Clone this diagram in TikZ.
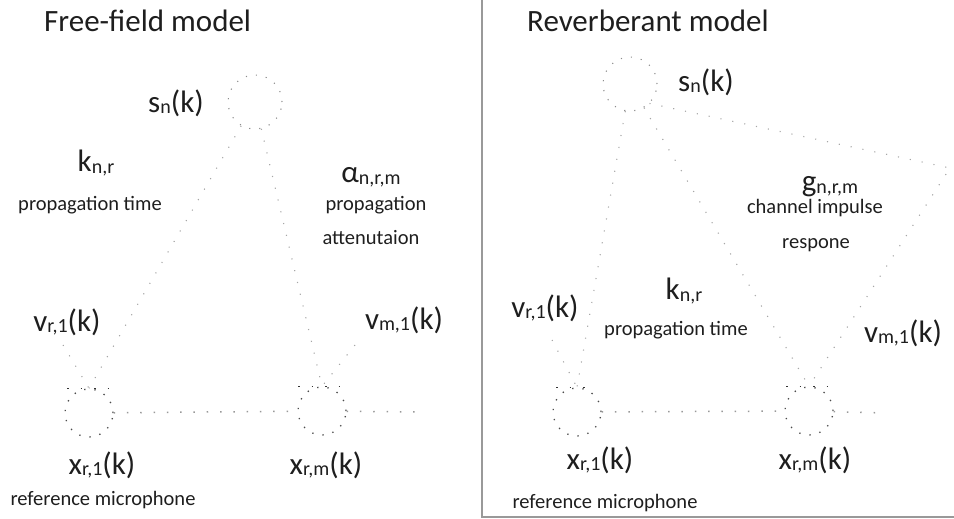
\documentclass[tikz,border=0pt]{standalone}
\usepackage{fontspec}
\setmainfont{Carlito}
\usetikzlibrary{positioning}
\usepackage{xcolor}
\definecolor{ink}{HTML}{1E1E1E}
\newcommand{\sig}[3]{#1\raisebox{-1.5pt}{\fontsize{20}{20}\selectfont #2}#3}

\begin{document}
\begin{tikzpicture}[x=1pt, y=-1pt,
    heading/.style={font=\fontsize{31}{33}\selectfont, text=ink, inner sep=0pt, anchor=west},
    big/.style={font=\fontsize{31}{33}\selectfont, text=ink, inner sep=0pt},
    small/.style={font=\fontsize{20.5}{22}\selectfont, text=ink, inner sep=0pt},
    source/.style={circle, minimum size=54pt, inner sep=0pt, draw=black!45, line width=1.1pt, dash pattern=on 1.1pt off 9pt},
    mic/.style={circle, minimum size=48pt, inner sep=0pt, draw=black!70, line width=1.3pt, dash pattern=on 1.3pt off 9pt},
    mictop/.style={draw=black!80, line width=1.6pt, dash pattern=on 1.6pt off 11.9pt},
    ray/.style={draw=black!35, line width=1.1pt, dash pattern=on 1.1pt off 11pt},
    cable/.style={draw=black!40, line width=1.5pt, dash pattern=on 1.5pt off 11.8pt},
    frame/.style={draw=black!40, line width=1.3pt}]

            \useasboundingbox (0,0) rectangle (954,519);

            \draw[frame] (482,0) |- (954,517);

            \node[heading] (title1) at (44,21) {Free-field model};

            \node[source] (src1) at (255,102) {};
            \node[big] (s1) at (176,103) {\sig{s}{n}{(k)}};

            \node[mic] (m1) at (89,413) {};
            \node[mic] (m2) at (322,411) {};
            \coordinate (tail1) at (418,412);
            \coordinate (n1) at (63,345);
            \coordinate (n2) at (355,345);

            \draw[mictop] ([xshift=-22pt]m1.north) -- ([xshift=20pt]m1.north);
            \draw[mictop] ([xshift=-24pt]m2.north) -- ([xshift=18pt]m2.north);
            \draw[ray] (src1) -- (m1.north);
            \draw[ray] (src1) -- (m2.north);
            \draw[ray] (n1) -- (m1.north);
            \draw[ray] (n2) -- (m2.north);
            \draw[cable] (m1) -- (m2);
            \draw[cable] (m2) -- (tail1);

            \node[big] (k1) at (96,163) {\sig{k}{n,r}{}};
            \node[small] (t1) at (90,205) {propagation time};
            \node[big] (a1) at (371,177) {\sig{α}{n,r,m}{}};
            \node[small] (p1) at (376,205) {propagation};
            \node[small] (q1) at (371,238) {attenutaion};
            \node[big] (v1) at (67,322) {\sig{v}{r,1}{(k)}};
            \node[big] (w1) at (404,320) {\sig{v}{m,1}{(k)}};
            \node[big] (x1) at (102,465) {\sig{x}{r,1}{(k)}};
            \node[big] (y1) at (326,465) {\sig{x}{r,m}{(k)}};
            \node[small] (r1) at (103,500) {reference microphone};

            \node[heading] (title2) at (527,21) {Reverberant model};

            \node[source] (src2) at (630,84) {};
            \node[big] (s2) at (706,82) {\sig{s}{n}{(k)}};

            \node[mic] (m3) at (577,412) {};
            \node[mic] (m4) at (809,411) {};
            \coordinate (tail2) at (884,413);
            \coordinate (refl) at (950,168);
            \coordinate (n3) at (552,340);

            \draw[mictop] ([xshift=-21pt]m3.north) -- ([xshift=19pt]m3.north);
            \draw[mictop] ([xshift=-23pt]m4.north) -- ([xshift=19pt]m4.north);
            \draw[ray] (src2) -- (m3.north);
            \draw[ray] (src2) -- (m4.north);
            \draw[ray] (src2.south east) -- (refl) -- (m4.north);
            \draw[ray] (n3) -- (m3.north);
            \draw[cable] (m3) -- (m4);
            \draw[cable] (m4) -- (tail2);

            \node[big] (g2) at (830,187) {\sig{g}{n,r,m}{}};
            \node[small] (c2) at (815,208) {channel impulse};
            \node[small] (e2) at (816,245) {respone};
            \node[big] (k2) at (684,291) {\sig{k}{n,r}{}};
            \node[small] (t2) at (676,330) {propagation time};
            \node[big] (v2) at (545,308) {\sig{v}{r,1}{(k)}};
            \node[big] (w2) at (903,333) {\sig{v}{m,1}{(k)}};
            \node[big] (x2) at (600,460) {\sig{x}{r,1}{(k)}};
            \node[big] (y2) at (815,460) {\sig{x}{r,m}{(k)}};
            \node[small] (r2) at (605,503) {reference microphone};
        \end{tikzpicture}
\end{document}
